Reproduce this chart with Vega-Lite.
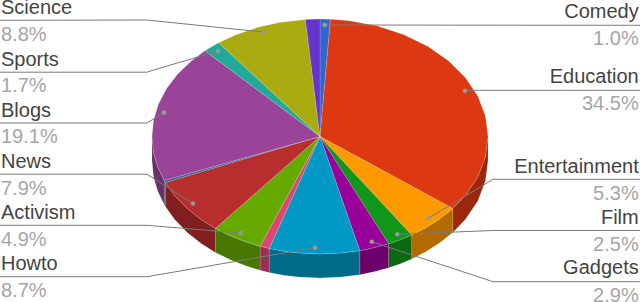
{
"$schema":"https://vega.github.io/schema/vega-lite/v6.json",
"width":640,"height":302,"padding":0,"autosize":{"type":"none"},"background":"white",
"config":{"view":{"stroke":null}},
"projection":{"type":"identity","reflectY":true,"scale":1,"translate":[320,136.5]},
"datasets":{
"walls":[
{"type":"Feature","properties":{"category":"Education"},"geometry":{"type":"Polygon","coordinates":[[[168,0],[165.4,-20.4],[157.9,-40.2],[145.5,-58.8],[132.8,-72],[132.8,-96],[145.5,-82.8],[157.9,-64.2],[165.4,-44.4],[168,-24],[168,0]]]}},
{"type":"Feature","properties":{"category":"Entertainment"},"geometry":{"type":"Polygon","coordinates":[[[132.8,-72],[118.8,-83.1],[105.7,-91.3],[91.7,-98.4],[91.7,-122.4],[105.7,-115.3],[118.8,-107.1],[132.8,-96],[132.8,-72]]]}},
{"type":"Feature","properties":{"category":"Film"},"geometry":{"type":"Polygon","coordinates":[[[91.7,-98.4],[80.4,-103.2],[68.6,-107.3],[68.6,-131.3],[80.4,-127.2],[91.7,-122.4],[91.7,-98.4]]]}},
{"type":"Feature","properties":{"category":"Gadgets"},"geometry":{"type":"Polygon","coordinates":[[[68.6,-107.3],[54.7,-111.1],[39.8,-114.2],[39.8,-138.2],[54.7,-135.1],[68.6,-131.3],[68.6,-107.3]]]}},
{"type":"Feature","properties":{"category":"Howto"},"geometry":{"type":"Polygon","coordinates":[[[39.8,-114.2],[20.5,-116.6],[0,-117.5],[-20.5,-116.6],[-34.9,-114.9],[-50.8,-112],[-50.8,-136],[-34.9,-138.9],[-20.5,-140.6],[0,-141.5],[20.5,-140.6],[39.8,-138.2],[39.8,-114.2]]]}},
{"type":"Feature","properties":{"category":"Other A"},"geometry":{"type":"Polygon","coordinates":[[[-50.8,-112],[-59.9,-109.8],[-59.9,-133.8],[-50.8,-136],[-50.8,-112]]]}},
{"type":"Feature","properties":{"category":"Activism"},"geometry":{"type":"Polygon","coordinates":[[[-59.9,-109.8],[-73.6,-105.6],[-89,-99.6],[-104.6,-92],[-104.6,-116],[-89,-123.6],[-73.6,-129.6],[-59.9,-133.8],[-59.9,-109.8]]]}},
{"type":"Feature","properties":{"category":"News"},"geometry":{"type":"Polygon","coordinates":[[[-104.6,-92],[-118.8,-83.1],[-132.4,-72.3],[-145.5,-58.8],[-154.6,-45.9],[-154.6,-69.9],[-145.5,-82.8],[-132.4,-96.3],[-118.8,-107.1],[-104.6,-116],[-104.6,-92]]]}},
{"type":"Feature","properties":{"category":"Other B"},"geometry":{"type":"Polygon","coordinates":[[[-154.6,-45.9],[-155.8,-44],[-155.8,-68],[-154.6,-69.9],[-154.6,-45.9]]]}},
{"type":"Feature","properties":{"category":"Blogs"},"geometry":{"type":"Polygon","coordinates":[[[-155.8,-44],[-162.3,-30.4],[-166.4,-16.4],[-168,0],[-168,-24],[-166.4,-40.4],[-162.3,-54.4],[-155.8,-68],[-155.8,-44]]]}}
],
"tops":[
{"type":"Feature","properties":{"category":"Comedy","share":1.0},"geometry":{"type":"Polygon","coordinates":[[[0,0],[0,117.5],[10.5,117.3],[0,0]]]}},
{"type":"Feature","properties":{"category":"Education","share":34.5},"geometry":{"type":"Polygon","coordinates":[[[0,0],[10.5,117.3],[29.2,115.7],[57.5,110.4],[84,101.8],[108,90],[128.7,75.5],[145.5,58.8],[157.9,40.2],[165.4,20.4],[168,0],[165.4,-20.4],[157.9,-40.2],[145.5,-58.8],[132.8,-72],[0,0]]]}},
{"type":"Feature","properties":{"category":"Entertainment","share":5.3},"geometry":{"type":"Polygon","coordinates":[[[0,0],[132.8,-72],[118.8,-83.1],[105.7,-91.3],[91.7,-98.4],[0,0]]]}},
{"type":"Feature","properties":{"category":"Film","share":2.5},"geometry":{"type":"Polygon","coordinates":[[[0,0],[91.7,-98.4],[80.4,-103.2],[68.6,-107.3],[0,0]]]}},
{"type":"Feature","properties":{"category":"Gadgets","share":2.9},"geometry":{"type":"Polygon","coordinates":[[[0,0],[68.6,-107.3],[54.7,-111.1],[39.8,-114.2],[0,0]]]}},
{"type":"Feature","properties":{"category":"Howto","share":8.7},"geometry":{"type":"Polygon","coordinates":[[[0,0],[39.8,-114.2],[20.5,-116.6],[0,-117.5],[-20.5,-116.6],[-34.9,-114.9],[-50.8,-112],[0,0]]]}},
{"type":"Feature","properties":{"category":"Other A","share":0.9},"geometry":{"type":"Polygon","coordinates":[[[0,0],[-50.8,-112],[-59.9,-109.8],[0,0]]]}},
{"type":"Feature","properties":{"category":"Activism","share":4.9},"geometry":{"type":"Polygon","coordinates":[[[0,0],[-59.9,-109.8],[-73.6,-105.6],[-89,-99.6],[-104.6,-92],[0,0]]]}},
{"type":"Feature","properties":{"category":"News","share":7.9},"geometry":{"type":"Polygon","coordinates":[[[0,0],[-104.6,-92],[-118.8,-83.1],[-132.4,-72.3],[-145.5,-58.8],[-154.6,-45.9],[0,0]]]}},
{"type":"Feature","properties":{"category":"Other B","share":0.3},"geometry":{"type":"Polygon","coordinates":[[[0,0],[-154.6,-45.9],[-155.8,-44],[0,0]]]}},
{"type":"Feature","properties":{"category":"Blogs","share":19.1},"geometry":{"type":"Polygon","coordinates":[[[0,0],[-155.8,-44],[-162.3,-30.4],[-166.4,-16.4],[-168,0],[-166.4,16.4],[-161.5,32.4],[-153.5,47.8],[-142.5,62.3],[-128.7,75.5],[-115,85.7],[0,0]]]}},
{"type":"Feature","properties":{"category":"Sports","share":1.7},"geometry":{"type":"Polygon","coordinates":[[[0,0],[-115,85.7],[-108,90],[-101.3,93.7],[0,0]]]}},
{"type":"Feature","properties":{"category":"Science","share":8.8},"geometry":{"type":"Polygon","coordinates":[[[0,0],[-101.3,93.7],[-84,101.8],[-62.9,108.9],[-40.6,114],[-14.6,117.1],[0,0]]]}},
{"type":"Feature","properties":{"category":"Other C","share":1.4},"geometry":{"type":"Polygon","coordinates":[[[0,0],[-14.6,117.1],[0,117.5],[0,0]]]}}
],
"leaders":[
{"type":"Feature","properties":{"category":"Science"},"geometry":{"type":"LineString","coordinates":[[-320,116.2],[-173,116.5],[-57,104.5]]}},
{"type":"Feature","properties":{"category":"Sports"},"geometry":{"type":"LineString","coordinates":[[-320,64.3],[-173,64.3],[-163,67.5],[-102,85.5]]}},
{"type":"Feature","properties":{"category":"Blogs"},"geometry":{"type":"LineString","coordinates":[[-320,13.5],[-173,13.5],[-156,24]]}},
{"type":"Feature","properties":{"category":"News"},"geometry":{"type":"LineString","coordinates":[[-320,-37.7],[-173,-37.7],[-127,-67]]}},
{"type":"Feature","properties":{"category":"Activism"},"geometry":{"type":"LineString","coordinates":[[-320,-88.8],[-173,-88.8],[-79.3,-96.5]]}},
{"type":"Feature","properties":{"category":"Howto"},"geometry":{"type":"LineString","coordinates":[[-320,-140.2],[-173,-140.2],[-5,-111.2]]}},
{"type":"Feature","properties":{"category":"Comedy"},"geometry":{"type":"LineString","coordinates":[[320,111.2],[4.7,111.5]]}},
{"type":"Feature","properties":{"category":"Education"},"geometry":{"type":"LineString","coordinates":[[320,46.2],[154,46.2],[145,45.8]]}},
{"type":"Feature","properties":{"category":"Entertainment"},"geometry":{"type":"LineString","coordinates":[[320,-42.8],[173,-42.8],[108.7,-81.5]]}},
{"type":"Feature","properties":{"category":"Film"},"geometry":{"type":"LineString","coordinates":[[320,-94],[173,-94],[77.3,-97.8]]}},
{"type":"Feature","properties":{"category":"Gadgets"},"geometry":{"type":"LineString","coordinates":[[320,-145.2],[173,-145.2],[51.7,-105.2]]}}
],
"dots":[
{"category":"Science","lon":-57,"lat":104.5},
{"category":"Sports","lon":-102,"lat":85.5},
{"category":"Blogs","lon":-156,"lat":24},
{"category":"News","lon":-127,"lat":-67},
{"category":"Activism","lon":-79.3,"lat":-96.5},
{"category":"Howto","lon":-5,"lat":-111.2},
{"category":"Comedy","lon":4.7,"lat":111.5},
{"category":"Education","lon":145,"lat":45.8},
{"category":"Entertainment","lon":108.7,"lat":-81.5},
{"category":"Film","lon":77.3,"lat":-97.8},
{"category":"Gadgets","lon":51.7,"lat":-105.2}
],
"labels":[
{"text":"Science","kind":"name","side":"left","lat":122.5},
{"text":"8.8%","kind":"pct","side":"left","lat":96},
{"text":"Sports","kind":"name","side":"left","lat":71},
{"text":"1.7%","kind":"pct","side":"left","lat":44.5},
{"text":"Blogs","kind":"name","side":"left","lat":19.5},
{"text":"19.1%","kind":"pct","side":"left","lat":-6.8},
{"text":"News","kind":"name","side":"left","lat":-31},
{"text":"7.9%","kind":"pct","side":"left","lat":-58.2},
{"text":"Activism","kind":"name","side":"left","lat":-82.2},
{"text":"4.9%","kind":"pct","side":"left","lat":-109.5},
{"text":"Howto","kind":"name","side":"left","lat":-133.7},
{"text":"8.7%","kind":"pct","side":"left","lat":-160.7},
{"text":"Comedy","kind":"name","side":"right","lat":118.5},
{"text":"1.0%","kind":"pct","side":"right","lat":91.5},
{"text":"Education","kind":"name","side":"right","lat":53.2},
{"text":"34.5%","kind":"pct","side":"right","lat":26.5},
{"text":"Entertainment","kind":"name","side":"right","lat":-36},
{"text":"5.3%","kind":"pct","side":"right","lat":-63.5},
{"text":"Film","kind":"name","side":"right","lat":-87.5},
{"text":"2.5%","kind":"pct","side":"right","lat":-114.5},
{"text":"Gadgets","kind":"name","side":"right","lat":-137.8},
{"text":"2.9%","kind":"pct","side":"right","lat":-165.5}
]
},
"resolve":{"scale":{"fill":"independent","color":"independent"}},
"layer":[
{"data":{"name":"walls"},
 "mark":{"type":"geoshape","strokeWidth":0.6,"stroke":"#ffffff","strokeOpacity":0.2},
 "encoding":{"fill":{"field":"properties.category","type":"nominal","legend":null,
  "scale":{"domain":["Education","Entertainment","Film","Gadgets","Howto","Other A","Activism","News","Other B","Blogs"],
  "range":["#9a280d","#b36b00","#0b6911","#6b006b","#006b8a","#9b2f53","#477700","#811f20","#224561","#6b2f6b"]}}}},
{"data":{"name":"tops"},
 "mark":{"type":"geoshape","strokeWidth":0.6,"stroke":"#ffffff","strokeOpacity":0.25},
 "encoding":{"fill":{"field":"properties.category","type":"nominal","legend":null,
  "scale":{"domain":["Comedy","Education","Entertainment","Film","Gadgets","Howto","Other A","Activism","News","Other B","Blogs","Sports","Science","Other C"],
  "range":["#3366cc","#dc3912","#ff9900","#109618","#990099","#0099c6","#dd4477","#66aa00","#b82e2e","#316395","#994499","#22aa99","#aaaa11","#6633cc"]}}}},
{"data":{"name":"leaders"},
 "mark":{"type":"geoshape","filled":false,"stroke":"#7a7a7a","strokeWidth":1}},
{"data":{"name":"dots"},
 "mark":{"type":"circle","size":20,"color":"#999999","opacity":1},
 "encoding":{"longitude":{"field":"lon","type":"quantitative"},"latitude":{"field":"lat","type":"quantitative"}}},
{"data":{"name":"labels"},
 "transform":[{"filter":"datum.side==='left'"}],
 "mark":{"type":"text","align":"left","baseline":"alphabetic","font":"Liberation Sans","fontSize":20},
 "encoding":{"longitude":{"datum":-319},"latitude":{"field":"lat","type":"quantitative"},"text":{"field":"text"},
  "color":{"field":"kind","type":"nominal","legend":null,"scale":{"domain":["name","pct"],"range":["#444444","#a6a6a6"]}}}},
{"data":{"name":"labels"},
 "transform":[{"filter":"datum.side==='right'"}],
 "mark":{"type":"text","align":"right","baseline":"alphabetic","font":"Liberation Sans","fontSize":20},
 "encoding":{"longitude":{"datum":318.7},"latitude":{"field":"lat","type":"quantitative"},"text":{"field":"text"},
  "color":{"field":"kind","type":"nominal","legend":null,"scale":{"domain":["name","pct"],"range":["#444444","#a6a6a6"]}}}}
]
}
